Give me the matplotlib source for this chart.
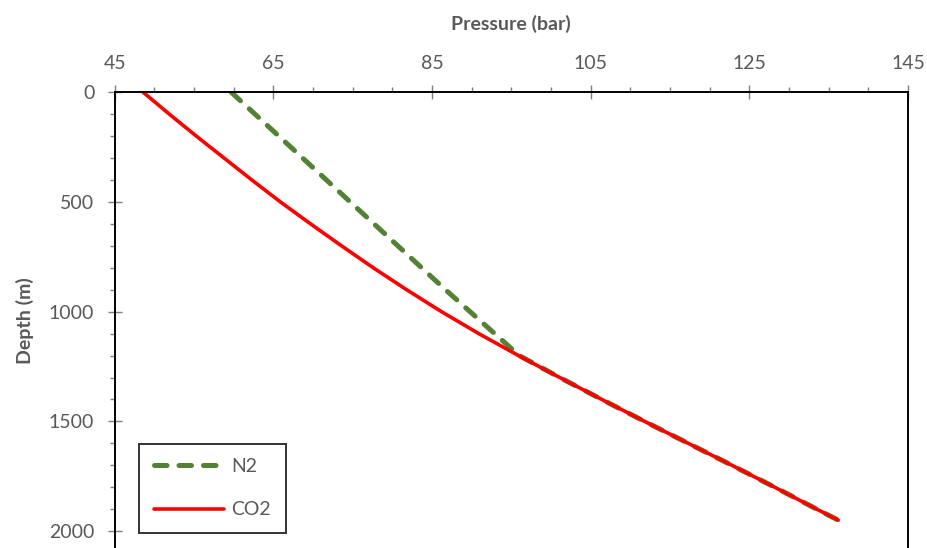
import matplotlib.pyplot as plt

plt.rcParams['font.family'] = ['Lato', 'DejaVu Sans']

# depth profile (m) and pressure (bar) for each gas
depth = [0, 100, 200, 300, 400, 500, 600, 700, 800, 900, 1000,
         1100, 1200, 1300, 1400, 1500, 1600, 1700, 1800, 1900, 1950]
p_co2 = [48.6, 51.9, 55.3, 58.8, 62.3, 65.9, 69.7, 73.6, 77.6, 81.8, 86.2,
         90.9, 95.9, 101.1, 106.4, 111.8, 117.3, 122.8, 128.2, 133.5, 136.2]
p_n2 = [59.7, 62.7, 65.7, 68.7, 71.7, 74.7, 77.7, 80.7, 83.7, 86.7, 89.8,
        92.9, 96.0, 101.1, 106.4, 111.8, 117.3, 122.8, 128.2, 133.5, 136.2]

x_major = [45, 65, 85, 105, 125, 145]
y_major = [0, 500, 1000, 1500, 2000]

fig = plt.figure(figsize=(9.27, 5.48), dpi=100)
ax = fig.add_axes([0.1237, 0.0, 0.8558, 0.8316])

ax.plot(p_n2, depth, color='#548235', lw=3.6, ls=(0, (2.5, 2.4)),
        dash_capstyle='round', solid_capstyle='round', label='N2')
ax.plot(p_co2, depth, color='#ff0000', lw=2.6, solid_capstyle='round',
        label='CO2')

ax.set_xlim(45, 145)
ax.set_ylim(2077, 0)
ax.set_xticks(x_major)
ax.set_xticks(range(45, 146, 5), minor=True)
ax.set_yticks(y_major)
ax.set_yticks(range(0, 2001, 100), minor=True)
ax.xaxis.tick_top()
ax.xaxis.set_label_position('top')

ax.tick_params(which='major', direction='inout', length=9.4, width=1,
               color='#7f7f7f', labelsize=14, labelcolor='#595959', pad=10)
ax.tick_params(which='minor', direction='out', length=3.8, width=1,
               color='#7f7f7f')

for side in ['top', 'left', 'right']:
    ax.spines[side].set_linewidth(1.4)
    ax.spines[side].set_color('black')
ax.spines['bottom'].set_visible(False)

ax.set_xlabel('Pressure (bar)', fontsize=14, fontweight='bold',
              color='#595959', labelpad=18)
ax.set_ylabel('Depth (m)', fontsize=14, fontweight='bold',
              color='#595959', labelpad=11)

leg = ax.legend(loc='lower left', bbox_to_anchor=(139 / 927, 15 / 548),
                bbox_transform=fig.transFigure, frameon=True, fancybox=False,
                fontsize=14, handlelength=3.6, labelspacing=1.35,
                borderpad=0.75, handletextpad=0.4, borderaxespad=0)
leg.get_frame().set_edgecolor('black')
leg.get_frame().set_linewidth(1.4)
for t in leg.get_texts():
    t.set_color('#595959')

fig.savefig('out.png', dpi=100)
